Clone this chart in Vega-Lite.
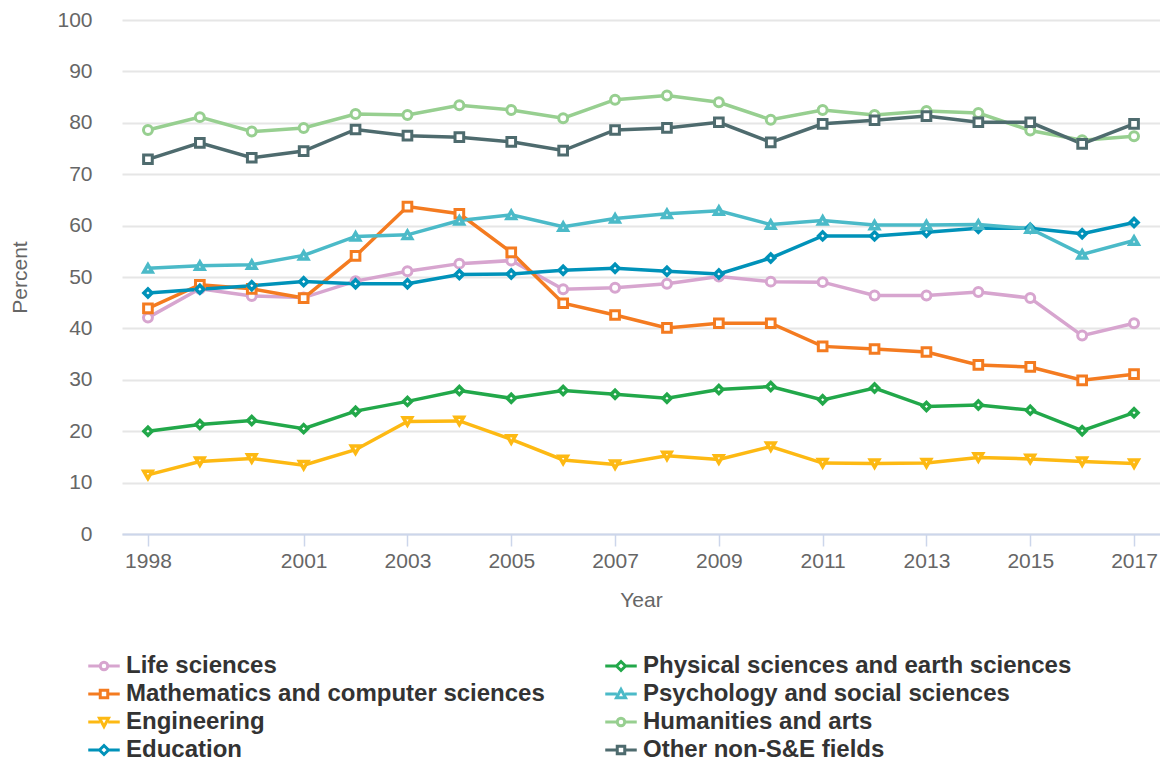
{
  "$schema": "https://vega.github.io/schema/vega-lite/v6.json",
  "width": 1038,
  "height": 514,
  "autosize": {"type": "none"},
  "padding": {"left": 122, "top": 20, "right": 0, "bottom": 224},
  "background": "white",
  "config": {
    "font": "Liberation Sans",
    "view": {"stroke": null}
  },
  "data": {
    "values": [
      {"Year":1998,"Field":"Life sciences","Percent":42.1},{"Year":1999,"Field":"Life sciences","Percent":47.7},{"Year":2000,"Field":"Life sciences","Percent":46.3},{"Year":2001,"Field":"Life sciences","Percent":46.0},{"Year":2002,"Field":"Life sciences","Percent":49.2},{"Year":2003,"Field":"Life sciences","Percent":51.1},{"Year":2004,"Field":"Life sciences","Percent":52.6},{"Year":2005,"Field":"Life sciences","Percent":53.2},{"Year":2006,"Field":"Life sciences","Percent":47.6},{"Year":2007,"Field":"Life sciences","Percent":47.9},{"Year":2008,"Field":"Life sciences","Percent":48.7},{"Year":2009,"Field":"Life sciences","Percent":50.1},{"Year":2010,"Field":"Life sciences","Percent":49.1},{"Year":2011,"Field":"Life sciences","Percent":49.0},{"Year":2012,"Field":"Life sciences","Percent":46.4},{"Year":2013,"Field":"Life sciences","Percent":46.4},{"Year":2014,"Field":"Life sciences","Percent":47.1},{"Year":2015,"Field":"Life sciences","Percent":45.9},{"Year":2016,"Field":"Life sciences","Percent":38.6},{"Year":2017,"Field":"Life sciences","Percent":41.0},
      {"Year":1998,"Field":"Mathematics and computer sciences","Percent":43.9},{"Year":1999,"Field":"Mathematics and computer sciences","Percent":48.5},{"Year":2000,"Field":"Mathematics and computer sciences","Percent":47.7},{"Year":2001,"Field":"Mathematics and computer sciences","Percent":45.9},{"Year":2002,"Field":"Mathematics and computer sciences","Percent":54.1},{"Year":2003,"Field":"Mathematics and computer sciences","Percent":63.7},{"Year":2004,"Field":"Mathematics and computer sciences","Percent":62.3},{"Year":2005,"Field":"Mathematics and computer sciences","Percent":54.8},{"Year":2006,"Field":"Mathematics and computer sciences","Percent":44.9},{"Year":2007,"Field":"Mathematics and computer sciences","Percent":42.6},{"Year":2008,"Field":"Mathematics and computer sciences","Percent":40.1},{"Year":2009,"Field":"Mathematics and computer sciences","Percent":41.0},{"Year":2010,"Field":"Mathematics and computer sciences","Percent":41.0},{"Year":2011,"Field":"Mathematics and computer sciences","Percent":36.5},{"Year":2012,"Field":"Mathematics and computer sciences","Percent":36.0},{"Year":2013,"Field":"Mathematics and computer sciences","Percent":35.4},{"Year":2014,"Field":"Mathematics and computer sciences","Percent":32.9},{"Year":2015,"Field":"Mathematics and computer sciences","Percent":32.5},{"Year":2016,"Field":"Mathematics and computer sciences","Percent":29.9},{"Year":2017,"Field":"Mathematics and computer sciences","Percent":31.1},
      {"Year":1998,"Field":"Engineering","Percent":11.5},{"Year":1999,"Field":"Engineering","Percent":14.1},{"Year":2000,"Field":"Engineering","Percent":14.7},{"Year":2001,"Field":"Engineering","Percent":13.4},{"Year":2002,"Field":"Engineering","Percent":16.4},{"Year":2003,"Field":"Engineering","Percent":21.9},{"Year":2004,"Field":"Engineering","Percent":22.0},{"Year":2005,"Field":"Engineering","Percent":18.4},{"Year":2006,"Field":"Engineering","Percent":14.4},{"Year":2007,"Field":"Engineering","Percent":13.5},{"Year":2008,"Field":"Engineering","Percent":15.2},{"Year":2009,"Field":"Engineering","Percent":14.5},{"Year":2010,"Field":"Engineering","Percent":17.0},{"Year":2011,"Field":"Engineering","Percent":13.8},{"Year":2012,"Field":"Engineering","Percent":13.7},{"Year":2013,"Field":"Engineering","Percent":13.8},{"Year":2014,"Field":"Engineering","Percent":14.9},{"Year":2015,"Field":"Engineering","Percent":14.6},{"Year":2016,"Field":"Engineering","Percent":14.1},{"Year":2017,"Field":"Engineering","Percent":13.7},
      {"Year":1998,"Field":"Education","Percent":46.9},{"Year":1999,"Field":"Education","Percent":47.6},{"Year":2000,"Field":"Education","Percent":48.3},{"Year":2001,"Field":"Education","Percent":49.1},{"Year":2002,"Field":"Education","Percent":48.7},{"Year":2003,"Field":"Education","Percent":48.7},{"Year":2004,"Field":"Education","Percent":50.5},{"Year":2005,"Field":"Education","Percent":50.6},{"Year":2006,"Field":"Education","Percent":51.3},{"Year":2007,"Field":"Education","Percent":51.7},{"Year":2008,"Field":"Education","Percent":51.1},{"Year":2009,"Field":"Education","Percent":50.6},{"Year":2010,"Field":"Education","Percent":53.7},{"Year":2011,"Field":"Education","Percent":58.0},{"Year":2012,"Field":"Education","Percent":58.0},{"Year":2013,"Field":"Education","Percent":58.7},{"Year":2014,"Field":"Education","Percent":59.5},{"Year":2015,"Field":"Education","Percent":59.5},{"Year":2016,"Field":"Education","Percent":58.4},{"Year":2017,"Field":"Education","Percent":60.6},
      {"Year":1998,"Field":"Physical sciences and earth sciences","Percent":20.0},{"Year":1999,"Field":"Physical sciences and earth sciences","Percent":21.3},{"Year":2000,"Field":"Physical sciences and earth sciences","Percent":22.1},{"Year":2001,"Field":"Physical sciences and earth sciences","Percent":20.5},{"Year":2002,"Field":"Physical sciences and earth sciences","Percent":23.9},{"Year":2003,"Field":"Physical sciences and earth sciences","Percent":25.8},{"Year":2004,"Field":"Physical sciences and earth sciences","Percent":27.9},{"Year":2005,"Field":"Physical sciences and earth sciences","Percent":26.4},{"Year":2006,"Field":"Physical sciences and earth sciences","Percent":27.9},{"Year":2007,"Field":"Physical sciences and earth sciences","Percent":27.2},{"Year":2008,"Field":"Physical sciences and earth sciences","Percent":26.4},{"Year":2009,"Field":"Physical sciences and earth sciences","Percent":28.1},{"Year":2010,"Field":"Physical sciences and earth sciences","Percent":28.7},{"Year":2011,"Field":"Physical sciences and earth sciences","Percent":26.1},{"Year":2012,"Field":"Physical sciences and earth sciences","Percent":28.4},{"Year":2013,"Field":"Physical sciences and earth sciences","Percent":24.8},{"Year":2014,"Field":"Physical sciences and earth sciences","Percent":25.1},{"Year":2015,"Field":"Physical sciences and earth sciences","Percent":24.1},{"Year":2016,"Field":"Physical sciences and earth sciences","Percent":20.1},{"Year":2017,"Field":"Physical sciences and earth sciences","Percent":23.6},
      {"Year":1998,"Field":"Psychology and social sciences","Percent":51.7},{"Year":1999,"Field":"Psychology and social sciences","Percent":52.2},{"Year":2000,"Field":"Psychology and social sciences","Percent":52.4},{"Year":2001,"Field":"Psychology and social sciences","Percent":54.2},{"Year":2002,"Field":"Psychology and social sciences","Percent":57.9},{"Year":2003,"Field":"Psychology and social sciences","Percent":58.2},{"Year":2004,"Field":"Psychology and social sciences","Percent":61.0},{"Year":2005,"Field":"Psychology and social sciences","Percent":62.1},{"Year":2006,"Field":"Psychology and social sciences","Percent":59.8},{"Year":2007,"Field":"Psychology and social sciences","Percent":61.4},{"Year":2008,"Field":"Psychology and social sciences","Percent":62.3},{"Year":2009,"Field":"Psychology and social sciences","Percent":62.9},{"Year":2010,"Field":"Psychology and social sciences","Percent":60.2},{"Year":2011,"Field":"Psychology and social sciences","Percent":61.0},{"Year":2012,"Field":"Psychology and social sciences","Percent":60.1},{"Year":2013,"Field":"Psychology and social sciences","Percent":60.1},{"Year":2014,"Field":"Psychology and social sciences","Percent":60.2},{"Year":2015,"Field":"Psychology and social sciences","Percent":59.4},{"Year":2016,"Field":"Psychology and social sciences","Percent":54.4},{"Year":2017,"Field":"Psychology and social sciences","Percent":57.1},
      {"Year":1998,"Field":"Humanities and arts","Percent":78.6},{"Year":1999,"Field":"Humanities and arts","Percent":81.1},{"Year":2000,"Field":"Humanities and arts","Percent":78.3},{"Year":2001,"Field":"Humanities and arts","Percent":79.0},{"Year":2002,"Field":"Humanities and arts","Percent":81.7},{"Year":2003,"Field":"Humanities and arts","Percent":81.5},{"Year":2004,"Field":"Humanities and arts","Percent":83.4},{"Year":2005,"Field":"Humanities and arts","Percent":82.5},{"Year":2006,"Field":"Humanities and arts","Percent":80.9},{"Year":2007,"Field":"Humanities and arts","Percent":84.5},{"Year":2008,"Field":"Humanities and arts","Percent":85.3},{"Year":2009,"Field":"Humanities and arts","Percent":84.0},{"Year":2010,"Field":"Humanities and arts","Percent":80.6},{"Year":2011,"Field":"Humanities and arts","Percent":82.5},{"Year":2012,"Field":"Humanities and arts","Percent":81.5},{"Year":2013,"Field":"Humanities and arts","Percent":82.3},{"Year":2014,"Field":"Humanities and arts","Percent":81.9},{"Year":2015,"Field":"Humanities and arts","Percent":78.5},{"Year":2016,"Field":"Humanities and arts","Percent":76.6},{"Year":2017,"Field":"Humanities and arts","Percent":77.4},
      {"Year":1998,"Field":"Other non-S&E fields","Percent":72.9},{"Year":1999,"Field":"Other non-S&E fields","Percent":76.1},{"Year":2000,"Field":"Other non-S&E fields","Percent":73.2},{"Year":2001,"Field":"Other non-S&E fields","Percent":74.5},{"Year":2002,"Field":"Other non-S&E fields","Percent":78.7},{"Year":2003,"Field":"Other non-S&E fields","Percent":77.5},{"Year":2004,"Field":"Other non-S&E fields","Percent":77.2},{"Year":2005,"Field":"Other non-S&E fields","Percent":76.3},{"Year":2006,"Field":"Other non-S&E fields","Percent":74.6},{"Year":2007,"Field":"Other non-S&E fields","Percent":78.6},{"Year":2008,"Field":"Other non-S&E fields","Percent":79.0},{"Year":2009,"Field":"Other non-S&E fields","Percent":80.1},{"Year":2010,"Field":"Other non-S&E fields","Percent":76.2},{"Year":2011,"Field":"Other non-S&E fields","Percent":79.8},{"Year":2012,"Field":"Other non-S&E fields","Percent":80.5},{"Year":2013,"Field":"Other non-S&E fields","Percent":81.3},{"Year":2014,"Field":"Other non-S&E fields","Percent":80.1},{"Year":2015,"Field":"Other non-S&E fields","Percent":80.1},{"Year":2016,"Field":"Other non-S&E fields","Percent":75.9},{"Year":2017,"Field":"Other non-S&E fields","Percent":79.8}
    ]
  },
  "encoding": {
    "x": {
      "field": "Year",
      "type": "quantitative",
      "scale": {"domain": [1997.5, 2017.5], "nice": false, "zero": false},
      "axis": {
        "title": "Year",
        "values": [1998, 2001, 2003, 2005, 2007, 2009, 2011, 2013, 2015, 2017],
        "format": "d",
        "grid": false,
        "domainColor": "#ccd6eb",
        "domainWidth": 2,
        "tickColor": "#ccd6eb",
        "tickWidth": 1.5,
        "tickSize": 12,
        "labelFontSize": 21,
        "labelColor": "#666666",
        "labelPadding": 4,
        "titleFontSize": 21,
        "titleFontWeight": "normal",
        "titleColor": "#666666",
        "titlePadding": 18
      }
    },
    "y": {
      "field": "Percent",
      "type": "quantitative",
      "scale": {"domain": [0, 100], "nice": false},
      "axis": {
        "title": "Percent",
        "values": [0, 10, 20, 30, 40, 50, 60, 70, 80, 90, 100],
        "grid": true,
        "gridColor": "#e6e6e6",
        "gridWidth": 2,
        "domain": false,
        "ticks": false,
        "labelFontSize": 21,
        "labelColor": "#666666",
        "labelPadding": 30,
        "titleFontSize": 21,
        "titleFontWeight": "normal",
        "titleColor": "#666666",
        "titlePadding": 26
      }
    },
    "color": {
      "field": "Field",
      "type": "nominal",
      "scale": {
        "domain": ["Life sciences", "Mathematics and computer sciences", "Engineering", "Education", "Physical sciences and earth sciences", "Psychology and social sciences", "Humanities and arts", "Other non-S&E fields"],
        "range": ["#d7a5cf", "#f47b20", "#fdb913", "#0092b9", "#22a84a", "#4bbac8", "#97cf90", "#4e6b6e"]
      },
      "legend": {
        "orient": "none",
        "legendX": -30,
        "legendY": 634,
        "title": null,
        "columns": 2,
        "columnPadding": 54,
        "rowPadding": 4,
        "padding": 0,
        "symbolSize": 225,
        "symbolStrokeWidth": 3,
        "labelOffset": 10,
        "labelFontSize": 24,
        "labelFontWeight": "bold",
        "labelColor": "#333333",
        "labelLimit": 600,
        "encoding": {
          "symbols": {
            "shape": {"value": {"expr": "(datum.value === 'Life sciences' || datum.value === 'Humanities and arts') ? 'M-2.1,0H-0.55M0.55,0H2.1M-0.5,0A0.5,0.5,0,1,0,0.5,0A0.5,0.5,0,1,0,-0.5,0Z' : (datum.value === 'Mathematics and computer sciences' || datum.value === 'Other non-S&E fields') ? 'M-2.1,0H-0.5M0.5,0H2.1M-0.5,-0.5H0.5V0.5H-0.5Z' : (datum.value === 'Education' || datum.value === 'Physical sciences and earth sciences') ? 'M-2.1,0H-0.6M0.6,0H2.1M-0.6,0L0,-0.6L0.6,0L0,0.6Z' : datum.value === 'Psychology and social sciences' ? 'M-2.1,0H-0.55M0.55,0H2.1M0,-0.6L0.6,0.5H-0.6Z' : 'M-2.1,0H-0.55M0.55,0H2.1M0,0.6L0.6,-0.5H-0.6Z'"}},
            "fill": {"value": "white"},
            "strokeWidth": {"value": 3},
            "opacity": {"value": 1}
          }
        }
      }
    }
  },
  "layer": [
    {
      "mark": {"type": "line", "strokeWidth": 3.5}
    },
    {
      "transform": [{"filter": {"field": "Field", "oneOf": ["Life sciences", "Humanities and arts"]}}],
      "mark": {"type": "point", "shape": "circle", "filled": false, "fill": "white", "fillOpacity": 1, "opacity": 1, "strokeWidth": 3, "size": 80}
    },
    {
      "transform": [{"filter": {"field": "Field", "oneOf": ["Mathematics and computer sciences", "Other non-S&E fields"]}}],
      "mark": {"type": "point", "shape": "square", "filled": false, "fill": "white", "fillOpacity": 1, "opacity": 1, "strokeWidth": 3, "size": 75}
    },
    {
      "transform": [{"filter": {"field": "Field", "oneOf": ["Education", "Physical sciences and earth sciences"]}}],
      "mark": {"type": "point", "shape": "diamond", "filled": false, "fill": "white", "fillOpacity": 1, "opacity": 1, "strokeWidth": 3.5, "size": 64}
    },
    {
      "transform": [{"filter": {"field": "Field", "equal": "Psychology and social sciences"}}],
      "mark": {"type": "point", "shape": "triangle-up", "filled": false, "fill": "white", "fillOpacity": 1, "opacity": 1, "strokeWidth": 3.5, "size": 70}
    },
    {
      "transform": [{"filter": {"field": "Field", "equal": "Engineering"}}],
      "mark": {"type": "point", "shape": "triangle-down", "filled": false, "fill": "white", "fillOpacity": 1, "opacity": 1, "strokeWidth": 3.5, "size": 70}
    }
  ]
}
